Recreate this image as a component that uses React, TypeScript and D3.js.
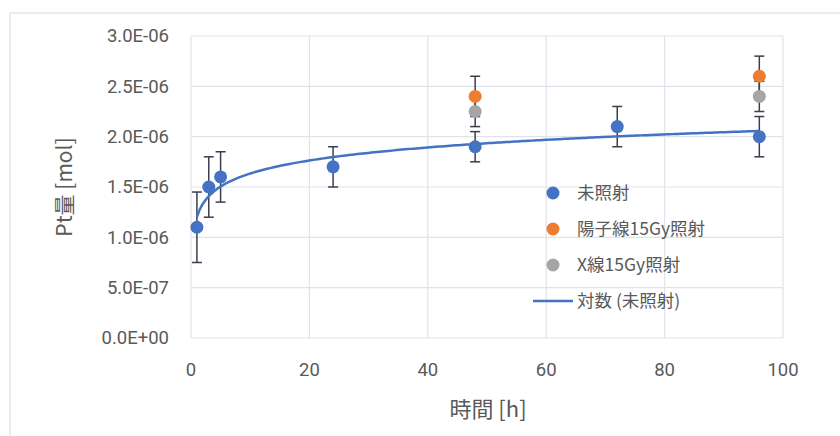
import React from "react";
import * as d3 from "d3";

const W = 840, H = 436;

// 未照射 (non-irradiated)
const hoursA = [1, 3, 5, 24, 48, 72, 96];
const valuesA = [1.1e-6, 1.5e-6, 1.6e-6, 1.7e-6, 1.9e-6, 2.1e-6, 2.0e-6];
const errA = [0.35e-6, 0.3e-6, 0.25e-6, 0.2e-6, 0.15e-6, 0.2e-6, 0.2e-6];
// 陽子線15Gy照射
const hoursB = [48, 96];
const valuesB = [2.4e-6, 2.6e-6];
const errB = [0.2e-6, 0.2e-6];
// X線15Gy照射
const hoursC = [48, 96];
const valuesC = [2.25e-6, 2.4e-6];
const errC = [0.15e-6, 0.15e-6];

const xTicks = [0, 20, 40, 60, 80, 100];
const yTicks = [0, 0.5e-6, 1.0e-6, 1.5e-6, 2.0e-6, 2.5e-6, 3.0e-6];
const yTickLabels = ["0.0E+00", "5.0E-07", "1.0E-06", "1.5E-06", "2.0E-06", "2.5E-06", "3.0E-06"];
const legendLabels = ["未照射", "陽子線15Gy照射", "X線15Gy照射", "対数 (未照射)"];

const BLUE = "#4472C4", ORANGE = "#ED7D31", GRAY = "#A5A5A5";
const TEXT = "#595959";
const FONT = "Roboto, 'Noto Sans CJK JP', sans-serif";
const JFONT = "'Noto Sans CJK JP', Roboto, sans-serif";

export default function App() {
  const x = d3.scaleLinear().domain([0, 100]).range([191, 783]);
  const y = d3.scaleLinear().domain([0, 3e-6]).range([338, 36]);

  // logarithmic least-squares trendline over series A
  const ls = hoursA.map((h) => Math.log(h));
  const ml = d3.mean(ls)!;
  const my = d3.mean(valuesA)!;
  let sxy = 0, sxx = 0;
  ls.forEach((l, i) => { sxy += (l - ml) * (valuesA[i] - my); sxx += (l - ml) * (l - ml); });
  const a = sxy / sxx, b = my - a * ml;
  const xs = d3.range(0, 201).map((i) => 1 + (95 * i) / 200);
  const trend = d3.line<number>().x((t) => x(t)).y((t) => y(a * Math.log(t) + b)).curve(d3.curveLinear)(xs)!;

  const errBars = (hs: number[], vs: number[], es: number[], key: string) =>
    hs.map((h, i) => (
      <g key={key + i} stroke="#3a3f4b" strokeWidth={1.5}>
        <line x1={x(h)} x2={x(h)} y1={y(vs[i] + es[i])} y2={y(vs[i] - es[i])} />
        <line x1={x(h) - 5} x2={x(h) + 5} y1={y(vs[i] + es[i])} y2={y(vs[i] + es[i])} />
        <line x1={x(h) - 5} x2={x(h) + 5} y1={y(vs[i] - es[i])} y2={y(vs[i] - es[i])} />
      </g>
    ));
  const dots = (hs: number[], vs: number[], c: string, key: string) =>
    hs.map((h, i) => <circle key={key + i} cx={x(h)} cy={y(vs[i])} r={6.5} fill={c} />);

  const legendX = 553;
  const legendY = [193, 229, 265, 301];
  const legendColors = [BLUE, ORANGE, GRAY];

  return (
    <svg width={W} height={H} style={{ position: "absolute", left: 0, top: 0, background: "#fff" }}>
      <rect x={10} y={13} width={900} height={500} fill="#fff" stroke="#d9d9d9" strokeWidth={1} />
      {xTicks.map((t) => (
        <line key={"gx" + t} x1={x(t)} x2={x(t)} y1={y(3e-6)} y2={y(0)} stroke="#dfe3ea" strokeWidth={1.2} />
      ))}
      {yTicks.map((t) => (
        <line key={"gy" + t} x1={x(0)} x2={x(100)} y1={y(t)} y2={y(t)} stroke="#dfe3ea" strokeWidth={1.2} />
      ))}
      {yTicks.map((t, i) => (
        <text key={"ty" + t} x={169} y={y(t)} dy="0.35em" textAnchor="end" fontSize={18.5} fill={TEXT} fontFamily={FONT}>
          {yTickLabels[i]}
        </text>
      ))}
      {xTicks.map((t) => (
        <text key={"tx" + t} x={x(t)} y={376} textAnchor="middle" fontSize={18.5} fill={TEXT} fontFamily={FONT}>
          {t}
        </text>
      ))}
      <text x={488} y={417} textAnchor="middle" fontSize={22} fill={TEXT} fontFamily={JFONT}>時間 [h]</text>
      <text transform="translate(72,187) rotate(-90)" textAnchor="middle" fontSize={21} fill={TEXT} fontFamily={JFONT}>
        Pt量 [mol]
      </text>

      {errBars(hoursA, valuesA, errA, "ea")}
      {errBars(hoursC, valuesC, errC, "ec")}
      {errBars(hoursB, valuesB, errB, "eb")}
      {dots(hoursA, valuesA, BLUE, "da")}
      <path d={trend} fill="none" stroke={BLUE} strokeWidth={2.5} />
      {dots(hoursC, valuesC, GRAY, "dc")}
      {dots(hoursB, valuesB, ORANGE, "db")}

      {legendColors.map((c, i) => (
        <circle key={"lc" + i} cx={legendX} cy={legendY[i]} r={6.5} fill={c} />
      ))}
      <line x1={533} x2={573} y1={legendY[3]} y2={legendY[3]} stroke={BLUE} strokeWidth={2.5} />
      {legendLabels.map((l, i) => (
        <text key={"lt" + i} x={577} y={legendY[i]} dy="0.35em" fontSize={17.5} fill={TEXT} fontFamily={JFONT}>
          {l}
        </text>
      ))}
    </svg>
  );
}
